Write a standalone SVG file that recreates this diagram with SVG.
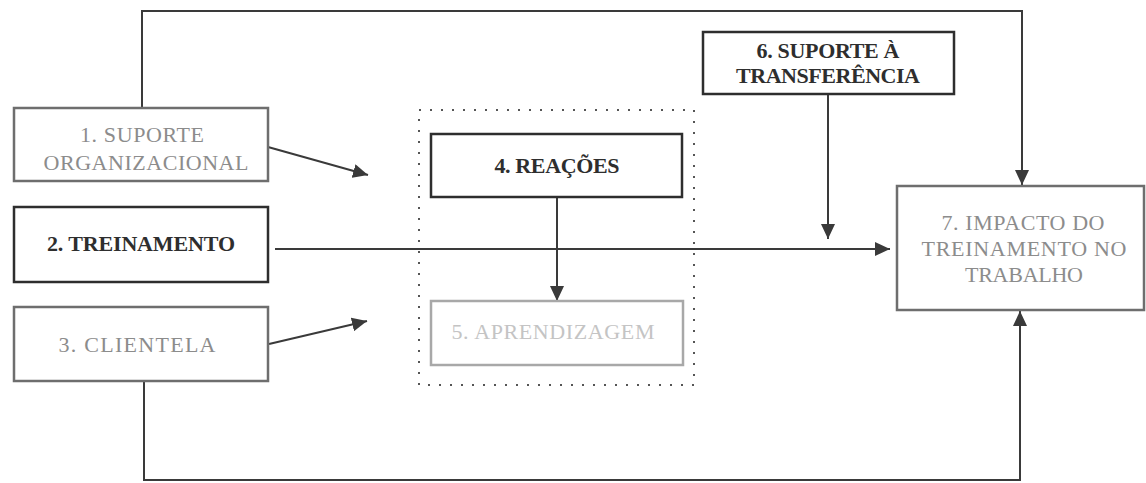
<svg xmlns="http://www.w3.org/2000/svg" width="1146" height="483" viewBox="0 0 1146 483">
  <defs>
    <marker id="arrow" markerUnits="userSpaceOnUse" markerWidth="16" markerHeight="14" refX="15" refY="7" orient="auto">
      <path d="M0,0 L15,7 L0,14 z" fill="#3a3a3a"/>
    </marker>
    <style>
      .box-dark { fill: #ffffff; stroke: #2e2e2e; stroke-width: 2.5; }
      .box-grey { fill: #ffffff; stroke: #6e6e6e; stroke-width: 2.5; }
      .box-light { fill: #ffffff; stroke: #a8a8a8; stroke-width: 2.5; }
      .group-frame { fill: none; stroke: #555555; stroke-width: 2; stroke-dasharray: 2 9; }
      .lbl { font-family: "Liberation Serif", "Times New Roman", serif; font-size: 22px; text-anchor: middle; }
      .lbl-dark { fill: #2e2e2e; font-weight: bold; }
      .lbl-grey { fill: #8c8c8c; }
      .lbl-light { fill: #c4c4c4; }
      .wire { fill: none; stroke: #3a3a3a; stroke-width: 2; }
    </style>
  </defs>

  <rect width="1146" height="483" fill="#ffffff"/>

  <!-- connectors -->
  <g id="connectors">
    <polyline class="wire" points="142,108 142,11 1022,11 1022,185" marker-end="url(#arrow)"/>
    <polyline class="wire" points="144,381 144,480 1020,480 1020,311" marker-end="url(#arrow)"/>
    <line class="wire" x1="268" y1="147" x2="368" y2="175" marker-end="url(#arrow)"/>
    <line class="wire" x1="269" y1="344" x2="367" y2="321" marker-end="url(#arrow)"/>
    <line class="wire" x1="275" y1="249" x2="890" y2="249" marker-end="url(#arrow)"/>
    <line class="wire" x1="557" y1="198" x2="557" y2="301" marker-end="url(#arrow)"/>
    <line class="wire" x1="828" y1="95" x2="828" y2="239" marker-end="url(#arrow)"/>
  </g>

  <!-- dotted frame around 4 and 5 -->
  <rect id="group-4-5" class="group-frame" x="419" y="110" width="275" height="275"/>

  <g id="node-1">
    <rect class="box-grey" x="14" y="108" width="254" height="73"/>
    <text class="lbl lbl-grey" x="142" y="142" textLength="124">1. SUPORTE</text>
    <text class="lbl lbl-grey" x="146" y="170" textLength="205">ORGANIZACIONAL</text>
  </g>

  <g id="node-2">
    <rect class="box-dark" x="14" y="207" width="254" height="75"/>
    <text class="lbl lbl-dark" x="141" y="251" textLength="188">2. TREINAMENTO</text>
  </g>

  <g id="node-3">
    <rect class="box-grey" x="14" y="307" width="254" height="74"/>
    <text class="lbl lbl-grey" x="137" y="352" textLength="157">3. CLIENTELA</text>
  </g>

  <g id="node-4">
    <rect class="box-dark" x="431" y="134" width="251" height="63"/>
    <text class="lbl lbl-dark" x="557" y="173" textLength="125">4. REAÇÕES</text>
  </g>

  <g id="node-5">
    <rect class="box-light" x="431" y="301" width="252" height="64"/>
    <text class="lbl lbl-light" x="553" y="339" textLength="203">5. APRENDIZAGEM</text>
  </g>

  <g id="node-6">
    <rect class="box-dark" x="703" y="32" width="251" height="62"/>
    <text class="lbl lbl-dark" x="828" y="58" textLength="143">6. SUPORTE À</text>
    <text class="lbl lbl-dark" x="828" y="83" textLength="184">TRANSFERÊNCIA</text>
  </g>

  <g id="node-7">
    <rect class="box-grey" x="897" y="186" width="247" height="124"/>
    <text class="lbl lbl-grey" x="1023" y="230" textLength="163">7. IMPACTO DO</text>
    <text class="lbl lbl-grey" x="1024" y="256" textLength="205">TREINAMENTO NO</text>
    <text class="lbl lbl-grey" x="1024" y="282" textLength="118">TRABALHO</text>
  </g>
</svg>
